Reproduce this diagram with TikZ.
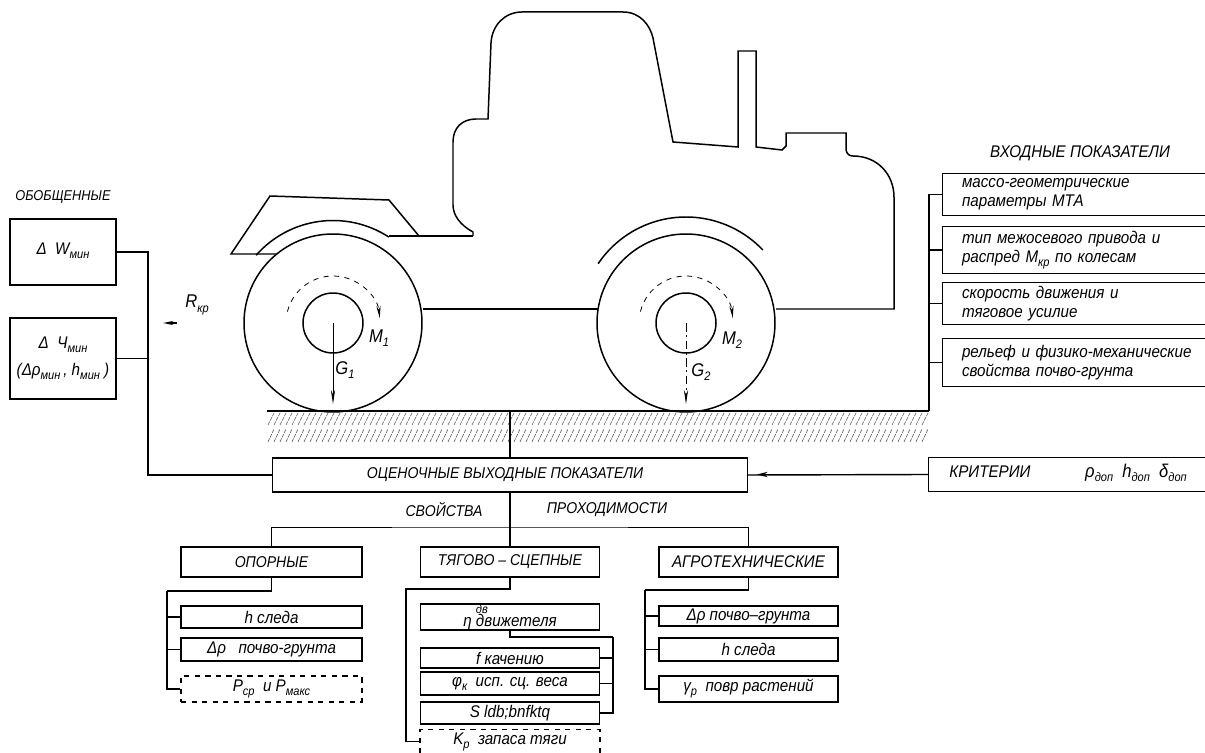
\documentclass[tikz,border=0pt]{standalone}
\usepackage{fontspec}
\setmainfont{Liberation Sans}[FakeStretch=0.9]
\usetikzlibrary{arrows.meta}
\newcommand{\idx}[1]{\raisebox{-0.45ex}{\fontsize{7}{7}\selectfont #1}}
\newcommand{\indline}[2]{\hspace*{0.38cm}#1\\\hspace*{0.38cm}#2}
\tikzset{
  conn/.style={line width=0.8pt},
  thinconn/.style={line width=0.45pt},
  body/.style={line width=0.85pt},
  force/.style={line width=0.5pt, -{Stealth[length=8pt,width=2.4pt]}},
  hatch/.style={black!65, line width=0.35pt, dash pattern=on 2.2pt off 0.6pt},
  txt/.style={font=\itshape\fontsize{9.6}{10.8}\selectfont, inner sep=0pt},
  capstxt/.style={font=\itshape\fontsize{8.9}{10}\selectfont},
  lbl/.style={txt, font=\itshape\fontsize{10.5}{11}\selectfont},
  blk/.style={txt, draw, line width=0.8pt, align=center},
  openblk/.style={txt, minimum width=5.24cm, text width=5.24cm, align=left}
}
\begin{document}
\begin{tikzpicture}[x=0.02cm, y=-0.02cm]
  \useasboundingbox (0,0) rectangle (1205,753);

  % --- Tractor body ---
  \draw[body] (473,236) -- (473,232) .. controls (460,225) and (453,215) .. (453,205)
    -- (453,142) .. controls (453,128) and (462,119) .. (476,119) -- (488,119)
    -- (491,43) .. controls (492,25) and (505,12) .. (522,12) -- (623,12)
    .. controls (640,12) and (650,25) .. (653,38) -- (673,142) -- (738,147)
    -- (738,51) -- (756,51) -- (756,147) -- (782,150) -- (786,146) -- (786,133)
    -- (846,133) -- (846,150) .. controls (847,154) and (849,156) .. (853,156)
    .. controls (878,156) and (894,175) .. (894,197) -- (894,309) -- (776,309);
  \draw[body] (473,236) -- (389,236);
  \draw[body] (423,309) -- (598,309);

  % --- Fender and hitch ---
  \draw[body] (277,254) -- (231,254) -- (270,196) -- (389,200) -- (419,236);
  \draw[body] (333,323) ++(-138.6:102.5) arc (-138.6:-57:102.5);
  \draw[body] (686,323) ++(-146:106) arc (-146:-43.5:106);

  % --- Wheels ---
  \foreach \cx in {333,686}{
    \draw[body] (\cx,323) circle (89);
    \draw[body] (\cx,323) circle (30);
  }
  \draw[thinconn, dashed, -{Stealth[length=7pt,width=2.4pt]}] (333,323) ++(-166:47) arc (-166:-6:47);
  \draw[thinconn, dashed, -{Stealth[length=7pt,width=2.4pt]}] (686,323) ++(-166:47) arc (-166:-6:47);
  \draw[force] (333,323) -- (333,404);
  \draw[force, dash pattern=on 5pt off 2pt on 1pt off 2pt] (686,323) -- (686,404);
  \node[lbl] (m1) at (379,338) {M\idx{1}};
  \node[lbl] (m2) at (732,340) {M\idx{2}};
  \node[lbl] (g1) at (345,370) {G\idx{1}};
  \node[lbl] (g2) at (701,372) {G\idx{2}};

  % --- Ground ---
  \coordinate (gndc) at (510,411);
  \coordinate (gndr) at (929,411);
  \draw[conn] (267,411) -- (gndr);
  \foreach \x in {268,274,...,924}{
    \draw[hatch] (\x,425) -- (\x+6,413);
    \draw[hatch] (\x,442) -- (\x+6,429);
  }

  % --- Drawbar force ---
  \node[lbl] (rkr) at (197,305) {R\idx{кр}};
  \coordinate (rtail) at (177,323);
  \coordinate (rhead) at (163,323);
  \draw[conn, -{Stealth[length=6pt,width=2.4pt]}] (rtail) -- (rhead);

  % --- Generalised block, left ---
  \node[lbl, font=\itshape\fontsize{8.1}{10}\selectfont] (sumtitle) at (63,197) {ОБОБЩЕННЫЕ};
  \node[blk, minimum width=2.12cm, minimum height=1.32cm] (sumw) at (63,252)
    {\raisebox{0.14cm}{Δ\ \ W\idx{мин}}};
  \node[blk, minimum width=2.12cm, minimum height=1.62cm] (sumh) at (63,358.5)
    {Δ\ \ Ч\idx{мин}\\[0.16cm](Δρ\idx{мин}\,,\ h\idx{мин}\ )};

  % --- Output block ---
  \node[blk, capstxt, minimum width=9.5cm, minimum height=0.68cm] (main) at (510,475)
    {ОЦЕНОЧНЫЕ ВЫХОДНЫЕ ПОКАЗАТЕЛИ\hspace*{0.2cm}};
  \coordinate (trunk) at (148,475);
  \draw[conn] (sumw.east) -| (trunk) -- (main.west);
  \draw[conn] (sumh.east) -| (trunk);
  \draw[conn] (gndc) -- (main.north);

  % --- Input block, right ---
  \node[txt] (vxtitle) at (1080,153) {ВХОДНЫЕ ПОКАЗАТЕЛИ};
  \node[openblk, minimum height=0.82cm] (vx1) at (1074,194.5)
    {\indline{массо-геометрические}{параметры МТА}};
  \node[openblk, minimum height=0.92cm] (vx2) at (1074,250)
    {\indline{тип межосевого привода и}{распред M\idx{кр} по колесам}};
  \node[openblk, minimum height=0.82cm] (vx3) at (1074,303.5)
    {\indline{скорость движения и}{тяговое усилие}};
  \node[openblk, minimum height=0.94cm] (vx4) at (1074,362.5)
    {\indline{рельеф и физико-механические}{свойства почво-грунта}};
  \node[txt, minimum width=5.52cm, minimum height=0.66cm] (crit) at (1067,474.5) {};
  \node[txt] (crittext) at (990,472) {КРИТЕРИИ};
  \node[lbl] (critvals) at (1136,473) {ρ\idx{доп}\ \ h\idx{доп}\ \ δ\idx{доп}};
  \foreach \n in {vx1,vx2,vx3,vx4,crit}{
    \draw[conn] (\n.north east) -- (\n.north west) -- (\n.south west) -- (\n.south east);
  }
  \foreach \n in {vx1,vx2,vx3,vx4}{
    \draw[conn] (gndr) |- (\n.west);
  }
  \coordinate (crithead) at (757,474.5);
  \draw[conn] (crit.west) -- (main.east);
  \draw[conn, -{Stealth[length=6pt,width=3pt]}] (crit.west) -- (crithead);

  % --- Properties ---
  \node[txt, capstxt] (proptl) at (444,510) {СВОЙСТВА};
  \node[txt, capstxt] (proptr) at (607,510) {ПРОХОДИМОСТИ};
  \node[blk, capstxt, minimum width=3.62cm, minimum height=0.6cm] (opor) at (271.5,562) {ОПОРНЫЕ};
  \node[blk, capstxt, minimum width=3.58cm, minimum height=0.6cm] (tyago) at (510,562) {ТЯГОВО – СЦЕПНЫЕ};
  \node[blk, minimum width=3.58cm, minimum height=0.6cm] (agro) at (748.5,562) {АГРОТЕХНИЧЕСКИЕ};
  \coordinate (bar) at (510,527);
  \draw[thinconn] (opor.north) |- (bar) -| (agro.north);
  \draw[conn] (main.south) -- (tyago.north);

  % --- Support properties ---
  \node[blk, minimum width=3.62cm, minimum height=0.44cm] (op1) at (271.5,617) {h следа};
  \node[blk, minimum width=3.62cm, minimum height=0.46cm] (op2) at (271.5,649.5) {Δρ\ \ \ почво-грунта};
  \node[blk, dashed, minimum width=3.62cm, minimum height=0.52cm] (op3) at (271.5,689) {P\idx{ср}\ \ и P\idx{макс}};
  \coordinate (opbus) at (167,591);
  \draw[conn] (opor.south) |- (opbus);
  \foreach \n in {op1,op2,op3}{
    \draw[conn] (opbus) |- (\n.west);
  }

  % --- Traction properties ---
  \node[blk, minimum width=3.58cm, minimum height=0.44cm] (eta) at (510,617)
    {η \rlap{\raisebox{1.5ex}{\fontsize{7}{7}\selectfont дв}}движетеля};
  \node[blk, minimum width=3.58cm, minimum height=0.40cm] (tg1) at (510,658) {f качению};
  \node[blk, minimum width=3.58cm, minimum height=0.46cm] (tg2) at (510,683.5) {φ\idx{к}\ \ исп. сц. веса};
  \node[blk, minimum width=3.58cm, minimum height=0.44cm] (tg3) at (510,713) {S ldb;bnfktq};
  \node[txt, minimum width=3.58cm, minimum height=0.46cm] (kp) at (510,741.5) {K\idx{р}\ \ запаса тяги};
  \draw[conn, dashed] (kp.south west) -- (kp.north west) -- (kp.north east) -- (kp.south east);
  \coordinate (tgbus) at (406,589);
  \draw[conn] (tyago.south) |- (tgbus) |- (kp.west);
  \coordinate (etabus) at (613,637);
  \draw[conn] (eta.south) |- (etabus);
  \foreach \n in {tg1,tg2,tg3}{
    \draw[conn] (etabus) |- (\n.east);
  }

  % --- Agrotechnical properties ---
  \node[blk, minimum width=3.58cm, minimum height=0.40cm] (ag1) at (748.5,616) {Δρ почво–грунта};
  \node[blk, minimum width=3.58cm, minimum height=0.46cm] (ag2) at (748.5,649.5) {h следа};
  \node[blk, minimum width=3.58cm, minimum height=0.52cm] (ag3) at (748.5,689) {γ\idx{р}\ \ повр растений};
  \coordinate (agbus) at (645,590);
  \draw[conn] (agro.south) |- (agbus);
  \foreach \n in {ag1,ag2,ag3}{
    \draw[conn] (agbus) |- (\n.west);
  }
\end{tikzpicture}
\end{document}
